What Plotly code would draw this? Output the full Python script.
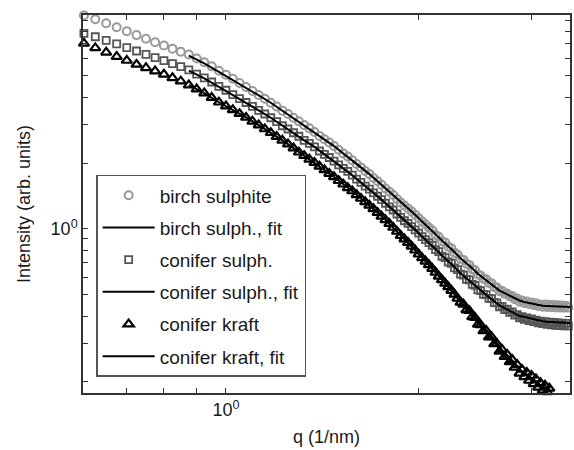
import math
import plotly.graph_objects as go

# scattering vector q (1/nm) of the measured points
q = [0.600, 0.625, 0.650, 0.675, 0.700, 0.725, 0.750, 0.775, 0.800, 0.825,
     0.850, 0.875, 0.900, 0.925, 0.950, 0.975, 1.000, 1.025, 1.050, 1.075,
     1.100, 1.125, 1.150, 1.175, 1.200, 1.225, 1.250, 1.275, 1.300, 1.325,
     1.350, 1.375, 1.400, 1.425, 1.450, 1.475, 1.500, 1.525, 1.550, 1.575,
     1.600, 1.625, 1.650, 1.675, 1.700, 1.725, 1.750, 1.775, 1.800, 1.825,
     1.850, 1.875, 1.900, 1.925, 1.950, 1.975, 2.000, 2.025, 2.050, 2.075,
     2.100, 2.125, 2.150, 2.175, 2.200, 2.225, 2.250, 2.275, 2.300, 2.325,
     2.350, 2.375, 2.400, 2.425, 2.450, 2.475, 2.500, 2.525, 2.550, 2.575,
     2.600, 2.625, 2.650, 2.675, 2.700, 2.725, 2.750, 2.775, 2.800, 2.825,
     2.850, 2.875, 2.900, 2.925, 2.950, 2.975, 3.000, 3.025, 3.050, 3.075,
     3.100, 3.125, 3.150, 3.175, 3.200, 3.225, 3.250, 3.275, 3.300, 3.325,
     3.350, 3.375, 3.400, 3.425, 3.450]

birch_sulphite = [
    9.45, 9.08, 8.70, 8.34, 8.00, 7.68, 7.39, 7.12, 6.88, 6.66,
    6.45, 6.26, 6.01, 5.77, 5.53, 5.28, 5.06, 4.85, 4.64, 4.45,
    4.27, 4.09, 3.93, 3.77, 3.62, 3.47, 3.35, 3.22, 3.10, 2.98,
    2.88, 2.77, 2.66, 2.57, 2.48, 2.39, 2.30, 2.21, 2.14, 2.06,
    1.98, 1.91, 1.84, 1.78, 1.71, 1.65, 1.59, 1.53, 1.48, 1.43,
    1.37, 1.32, 1.28, 1.24, 1.20, 1.16, 1.12, 1.08, 1.047, 1.014,
    0.986, 0.941, 0.921, 0.879, 0.866, 0.829, 0.815, 0.779, 0.764, 0.729,
    0.722, 0.692, 0.685, 0.655, 0.648, 0.619, 0.613, 0.590, 0.589, 0.566,
    0.564, 0.542, 0.540, 0.519, 0.521, 0.505, 0.507, 0.492, 0.494, 0.478,
    0.481, 0.465, 0.471, 0.459, 0.466, 0.454, 0.461, 0.449, 0.457, 0.445,
    0.452, 0.441, 0.451, 0.440, 0.450, 0.439, 0.449, 0.438, 0.448, 0.437,
    0.447, 0.436, 0.446, 0.437, 0.445]

conifer_sulph = [
    7.82, 7.55, 7.27, 7.01, 6.74, 6.50, 6.27, 6.06, 5.87, 5.69,
    5.51, 5.33, 5.10, 4.90, 4.69, 4.48, 4.30, 4.11, 3.94, 3.78,
    3.63, 3.48, 3.35, 3.22, 3.09, 2.96, 2.86, 2.75, 2.65, 2.54,
    2.46, 2.37, 2.27, 2.19, 2.12, 2.04, 1.96, 1.89, 1.83, 1.76,
    1.69, 1.63, 1.57, 1.52, 1.46, 1.41, 1.36, 1.31, 1.26, 1.22,
    1.17, 1.13, 1.09, 1.06, 1.025, 0.991, 0.956, 0.922, 0.894, 0.866,
    0.842, 0.804, 0.787, 0.750, 0.740, 0.706, 0.697, 0.664, 0.652, 0.621,
    0.616, 0.589, 0.585, 0.558, 0.552, 0.527, 0.522, 0.502, 0.501, 0.482,
    0.480, 0.461, 0.459, 0.441, 0.443, 0.428, 0.430, 0.416, 0.418, 0.404,
    0.406, 0.392, 0.397, 0.386, 0.392, 0.381, 0.388, 0.377, 0.383, 0.372,
    0.379, 0.369, 0.377, 0.366, 0.375, 0.365, 0.374, 0.363, 0.372, 0.362,
    0.371, 0.361, 0.370, 0.361, 0.369]

conifer_kraft = [
    7.04, 6.71, 6.41, 6.13, 5.88, 5.64, 5.44, 5.26, 5.08, 4.90,
    4.73, 4.54, 4.35, 4.17, 3.98, 3.79, 3.64, 3.50, 3.36, 3.23,
    3.10, 2.98, 2.86, 2.75, 2.64, 2.54, 2.44, 2.34, 2.24, 2.16,
    2.08, 2.01, 1.93, 1.86, 1.79, 1.73, 1.66, 1.60, 1.54, 1.49,
    1.43, 1.377, 1.329, 1.282, 1.235, 1.187, 1.142, 1.100, 1.058, 1.015,
    0.973, 0.932, 0.899, 0.866, 0.833, 0.799, 0.766, 0.737, 0.711, 0.685,
    0.659, 0.633, 0.607, 0.585, 0.564, 0.543, 0.523, 0.502, 0.481, 0.462,
    0.452, 0.426, 0.423, 0.396, 0.393, 0.366, 0.364, 0.342, 0.343, 0.320,
    0.321, 0.298, 0.299, 0.276, 0.281, 0.261, 0.267, 0.247, 0.253, 0.233,
    0.240, 0.219, 0.228, 0.211, 0.221, 0.203, 0.214, 0.196, 0.206, 0.189,
    0.198, 0.183, 0.193, 0.180, 0.187]

# fit curves
q_fit = [0.875, 0.925, 0.975, 1.025, 1.075, 1.125, 1.175, 1.225, 1.275, 1.325,
         1.375, 1.425, 1.475, 1.525, 1.575, 1.625, 1.675, 1.725, 1.775, 1.825,
         1.875, 1.925, 1.975, 2.025, 2.075, 2.125, 2.175, 2.225, 2.275, 2.325,
         2.375, 2.425, 2.475, 2.525, 2.575, 2.625, 2.675, 2.725, 2.775, 2.825,
         2.875, 2.925, 2.975, 3.025, 3.075, 3.125, 3.175, 3.225, 3.275, 3.325,
         3.375, 3.425, 3.450]

birch_fit = [6.19, 5.70, 5.22, 4.80, 4.42, 4.07, 3.77, 3.47, 3.22, 2.98,
             2.77, 2.57, 2.39, 2.21, 2.06, 1.91, 1.78, 1.65, 1.53, 1.43,
             1.32, 1.24, 1.16, 1.08, 1.014, 0.947, 0.885, 0.834, 0.784, 0.734,
             0.697, 0.661, 0.624, 0.595, 0.571, 0.547, 0.523, 0.509, 0.496, 0.482,
             0.471, 0.464, 0.459, 0.454, 0.449, 0.446, 0.445, 0.444, 0.442, 0.441,
             0.440, 0.440, 0.440]

conifer_sulph_fit = [5.29, 4.87, 4.46, 4.10, 3.77, 3.48, 3.22, 2.96, 2.75, 2.54,
                     2.37, 2.19, 2.04, 1.89, 1.76, 1.63, 1.52, 1.41, 1.31, 1.22,
                     1.13, 1.06, 0.991, 0.922, 0.866, 0.809, 0.756, 0.712, 0.670, 0.627,
                     0.595, 0.564, 0.533, 0.508, 0.488, 0.467, 0.447, 0.435, 0.423, 0.411,
                     0.400, 0.396, 0.391, 0.387, 0.382, 0.379, 0.377, 0.376, 0.374, 0.373,
                     0.372, 0.372, 0.372]

conifer_kraft_fit = [4.54, 4.17, 3.79, 3.50, 3.23, 2.98, 2.75, 2.54, 2.34, 2.16,
                     2.01, 1.86, 1.73, 1.60, 1.49, 1.377, 1.282, 1.187, 1.100, 1.015,
                     0.932, 0.866, 0.799, 0.737, 0.685, 0.633, 0.585, 0.543, 0.502, 0.462,
                     0.432, 0.402, 0.372, 0.348, 0.326, 0.304, 0.282, 0.2676, 0.2537, 0.2399,
                     0.2261, 0.2179, 0.2103, 0.2027, 0.1951, 0.1889, 0.1836]

x_major = [1]
x_major_text = ["10<sup>0</sup>"]
x_minor = [0.6, 0.7, 0.8, 0.9, 2, 3]
y_major = [1]
y_major_text = ["10<sup>0</sup>"]
y_minor = [0.2, 0.3, 0.4, 0.5, 0.6, 0.7, 0.8, 0.9, 2, 3, 4, 5, 6, 7, 8, 9]

x_range = [0.598, 3.447]
y_range = [0.178, 9.49]

FONT = "Liberation Sans, Arial, sans-serif"
AX = "#333333"
TXT = "#1a1a1a"

fig = go.Figure()

fig.add_trace(go.Scatter(
    x=q_fit[:len(conifer_kraft_fit)], y=conifer_kraft_fit, mode="lines",
    name="conifer kraft, fit", legendgroup="g6", legendrank=6,
    line=dict(color="black", width=2)))
fig.add_trace(go.Scatter(
    x=q[:len(conifer_kraft)], y=conifer_kraft, mode="markers",
    name="conifer kraft", legendgroup="g5", legendrank=5, cliponaxis=False,
    marker=dict(symbol="triangle-up-open", size=9, color="black",
                line=dict(color="black", width=2.2))))
fig.add_trace(go.Scatter(
    x=q, y=conifer_sulph, mode="markers",
    name="conifer sulph.", legendgroup="g3", legendrank=3, cliponaxis=False,
    marker=dict(symbol="square-open", size=7, color="#555555",
                line=dict(color="#555555", width=1.8))))
fig.add_trace(go.Scatter(
    x=q, y=birch_sulphite, mode="markers",
    name="birch sulphite", legendgroup="g1", legendrank=1, cliponaxis=False,
    marker=dict(symbol="circle-open", size=8, color="#999999",
                line=dict(color="#999999", width=2))))
fig.add_trace(go.Scatter(
    x=q_fit, y=conifer_sulph_fit, mode="lines",
    name="conifer sulph., fit", legendgroup="g4", legendrank=4,
    line=dict(color="black", width=2)))
fig.add_trace(go.Scatter(
    x=q_fit, y=birch_fit, mode="lines",
    name="birch sulph., fit", legendgroup="g2", legendrank=2,
    line=dict(color="black", width=2)))

axis_common = dict(
    type="log", showgrid=False, zeroline=False,
    showline=True, linecolor=AX, linewidth=1.5, mirror="allticks",
    ticks="inside", ticklen=5, tickwidth=1.2, tickcolor=AX,
    tickfont=dict(family=FONT, size=18, color=TXT),
)

fig.update_xaxes(
    **axis_common,
    range=[math.log10(x_range[0]), math.log10(x_range[1])],
    tickmode="array", tickvals=x_major, ticktext=x_major_text,
    minor=dict(tickmode="array", tickvals=x_minor, ticks="inside", ticklen=5,
               tickwidth=1.2, tickcolor=AX, showgrid=False),
    title=dict(text="q (1/nm)", font=dict(family=FONT, size=18, color=TXT), standoff=11),
)
fig.update_yaxes(
    **axis_common,
    range=[math.log10(y_range[0]), math.log10(y_range[1])],
    tickmode="array", tickvals=y_major, ticktext=y_major_text,
    minor=dict(tickmode="array", tickvals=y_minor, ticks="inside", ticklen=5,
               tickwidth=1.2, tickcolor=AX, showgrid=False),
    title=dict(text="Intensity (arb. units)", font=dict(family=FONT, size=18, color=TXT), standoff=15),
)

fig.update_layout(
    width=574, height=450,
    margin=dict(l=83, r=4, t=15, b=57, autoexpand=False),
    paper_bgcolor="white", plot_bgcolor="white",
    showlegend=True,
    legend=dict(
        x=0.027, y=0.577, xanchor="left", yanchor="top",
        bgcolor="white", bordercolor="#555555", borderwidth=1.5,
        font=dict(family=FONT, size=19, color=TXT),
        tracegroupgap=4.5, itemwidth=52,
    ),
)

fig.write_html("out.html")
